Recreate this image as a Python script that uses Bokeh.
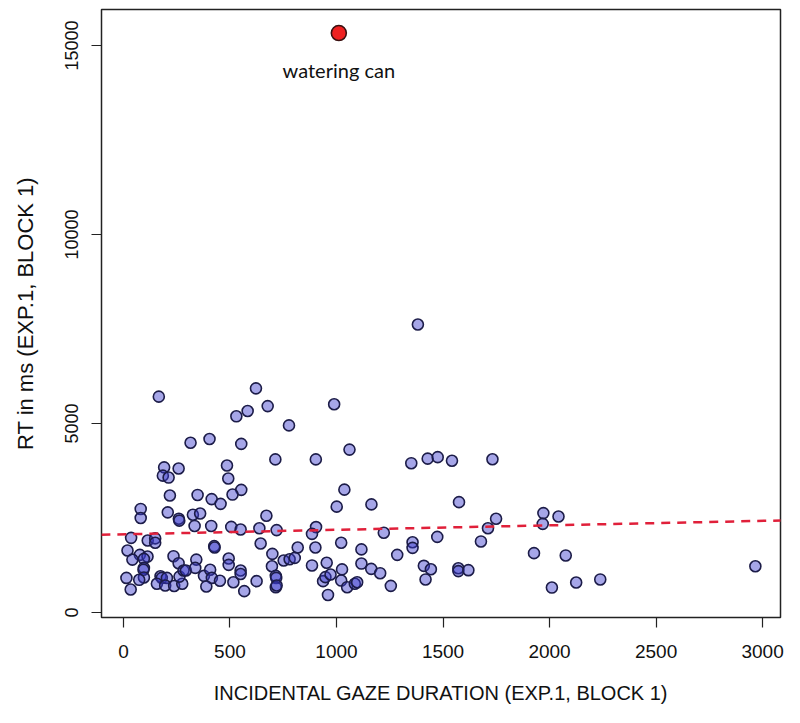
from bokeh.plotting import figure
from bokeh.models import Range1d, FixedTicker, Slope, Label
from bokeh.embed import file_html
from bokeh.resources import INLINE

# Incidental gaze duration (ms) and RT (ms), Exp.1 Block 1
gaze_ms = [166, 622, 989, 677, 583, 530, 777, 404, 315, 553, 1061, 713, 903, 1351, 1428, 1475,
           486, 191, 259, 185, 212, 492, 1037, 553, 512, 218, 348, 414, 456, 1001, 1164, 81,
           208, 81, 260, 262, 326, 360, 671, 334, 412, 506, 550, 638, 719, 904, 885, 1222,
           36, 114, 149, 149, 426, 428, 644, 1022, 1357, 1357, 1473, 818, 901, 1117, 19, 699,
           77, 113, 96, 42, 235, 342, 494, 494, 259, 752, 780, 804, 885, 954, 1117, 1285,
           96, 94, 96, 14, 34, 74, 174, 180, 204, 157, 196, 238, 276, 263, 282, 293,
           337, 378, 407, 415, 389, 453, 516, 550, 550, 567, 625, 697, 715, 717, 715, 719,
           937, 948, 972, 960, 1026, 1022, 1050, 1086, 1097, 1163, 1205, 1255, 1410, 1443, 1418,
           1542, 1732, 1575, 1749, 1711, 1678, 1572, 1572, 1619, 1971, 2042, 1968, 1927, 2076,
           2011, 2125, 2238, 2966, 1382]
rt_ms = [5710, 5930, 5510, 5460, 5330, 5190, 4950, 4590, 4490, 4460, 4310, 4050, 4050, 3950, 4070, 4110,
         3890, 3840, 3810, 3620, 3570, 3545, 3250, 3245, 3120, 3095, 3110, 3000, 2875, 2800, 2860, 2740,
         2650, 2500, 2480, 2430, 2585, 2620, 2560, 2290, 2290, 2265, 2195, 2230, 2180, 2260, 2080, 2110,
         1975, 1905, 1960, 1845, 1755, 1720, 1825, 1845, 1860, 1710, 2000, 1720, 1720, 1670, 1640, 1550,
         1525, 1480, 1420, 1400, 1490, 1400, 1430, 1260, 1305, 1375, 1410, 1445, 1245, 1315, 1295, 1525,
         1180, 1130, 925, 915, 610, 865, 960, 915, 915, 760, 715, 700, 760, 950, 1110, 1110,
         1180, 970, 1130, 915, 690, 840, 800, 1110, 1020, 565, 830, 1225, 970, 915, 670, 715,
         830, 935, 1005, 465, 1140, 845, 670, 760, 800, 1155, 1040, 705, 1235, 1145, 875,
         4015, 4055, 2920, 2480, 2230, 1880, 1170, 1095, 1120, 2630, 2540, 2345, 1570, 1510,
         660, 795, 875, 1225, 7620]

outlier_gaze = [1011]
outlier_rt = [15330]
outlier_label = "watering can"

fit_intercept = 2069
fit_slope = 0.1185

x_ticks = [0, 500, 1000, 1500, 2000, 2500, 3000]
y_ticks = [0, 5000, 10000, 15000]

FONT = "'Liberation Sans', Arial, sans-serif"

p = figure(width=792, height=715, output_backend="svg", toolbar_location=None,
           x_range=Range1d(-103, 3084), y_range=Range1d(-132, 15952),
           min_border_left=101, min_border_right=12, min_border_top=9, min_border_bottom=98)
p.xgrid.visible = False
p.ygrid.visible = False
p.outline_line_color = "#222222"
p.outline_line_width = 1.5
p.background_fill_color = "white"
p.border_fill_color = "white"

for ax in (p.xaxis[0], p.yaxis[0]):
    ax.axis_line_color = None
    ax.major_tick_line_color = "#222222"
    ax.major_tick_line_width = 1.2
    ax.major_tick_out = 10
    ax.major_tick_in = 0
    ax.minor_tick_line_color = None
    ax.major_label_text_font = FONT
    ax.major_label_text_color = "#111111"
    ax.axis_label_text_font = FONT
    ax.axis_label_text_font_style = "normal"
    ax.axis_label_text_color = "#111111"

p.xaxis.major_label_text_font_size = "19px"
p.yaxis.major_label_text_font_size = "18px"
p.xaxis.axis_label_text_font_size = "20px"
p.yaxis.axis_label_text_font_size = "22px"

p.xaxis.ticker = FixedTicker(ticks=x_ticks)
p.yaxis.ticker = FixedTicker(ticks=y_ticks)
p.xaxis.axis_label = "INCIDENTAL GAZE DURATION (EXP.1, BLOCK 1)"
p.yaxis.axis_label = "RT in ms (EXP.1, BLOCK 1)"
p.yaxis.major_label_orientation = "vertical"
p.xaxis.major_label_standoff = 17
p.xaxis.axis_label_standoff = 21
p.yaxis.major_label_standoff = 13
p.yaxis.axis_label_standoff = 25

p.add_layout(Slope(gradient=fit_slope, y_intercept=fit_intercept, line_color="#e0203a",
                   line_width=2.5, line_dash="9 7"))

p.scatter(gaze_ms, rt_ms, size=11, fill_color="#3a3acc", fill_alpha=0.45,
          line_color="#1c1c48", line_width=1.6)
p.scatter(outlier_gaze, outlier_rt, size=15, fill_color="#ee2020",
          line_color="#3a1010", line_width=1.6)

p.add_layout(Label(x=outlier_gaze[0], y=outlier_rt[0], text=outlier_label,
                   text_font="Lato", text_font_size="20px", text_color="#111111",
                   text_align="center", text_baseline="middle", y_offset=-37))

open("out.html", "w").write(file_html(p, INLINE))
